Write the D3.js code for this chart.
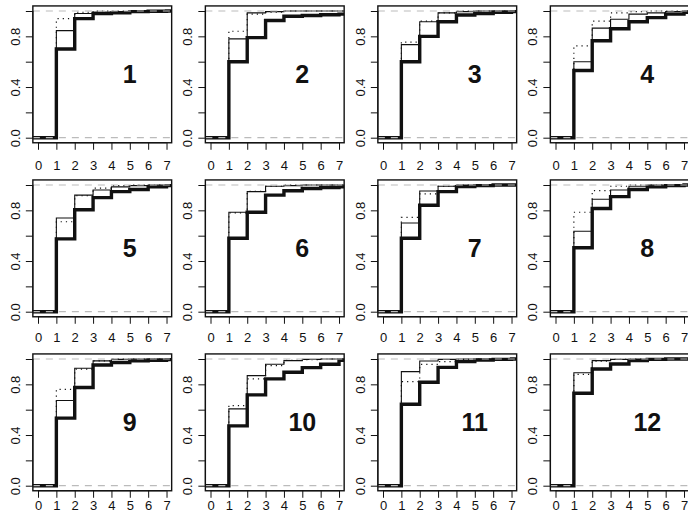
<!DOCTYPE html>
<html>
<head>
<meta charset="utf-8">
<script src="https://cdn.jsdelivr.net/npm/d3@7"></script>
<style>
  html, body { margin: 0; padding: 0; background: #fff; }
  svg { display: block; }
  text { font-family: "Liberation Sans", Arial, Helvetica, sans-serif; }
</style>
</head>
<body>
<svg id="chart" width="688" height="519"></svg>
<script>
// ---- data ----
const panels = ["1","2","3","4","5","6","7","8","9","10","11","12"];
const steps = [1, 2, 3, 4, 5, 6, 7];
const xTicks = [0, 1, 2, 3, 4, 5, 6, 7];
const yTicks = [0, 0.2, 0.4, 0.6, 0.8, 1.0];
const yTickLabels = ["0.0", "", "0.4", "", "0.8", ""];

// cumulative values at steps 1..7 for each panel
const seriesThick = [
  [0.70, 0.94, 0.98, 0.985, 0.995, 0.998, 1.0],
  [0.60, 0.79, 0.925, 0.958, 0.965, 0.97, 0.975],
  [0.60, 0.80, 0.915, 0.968, 0.98, 0.99, 0.995],
  [0.53, 0.765, 0.86, 0.915, 0.948, 0.975, 0.99],
  [0.575, 0.805, 0.90, 0.948, 0.965, 0.985, 0.995],
  [0.58, 0.785, 0.92, 0.955, 0.972, 0.98, 0.985],
  [0.58, 0.84, 0.948, 0.987, 0.995, 1.0, 1.0],
  [0.505, 0.815, 0.908, 0.965, 0.985, 0.995, 1.0],
  [0.533, 0.775, 0.953, 0.972, 0.985, 0.99, 0.995],
  [0.472, 0.717, 0.843, 0.895, 0.932, 0.958, 0.99],
  [0.643, 0.816, 0.934, 0.979, 0.992, 0.997, 1.0],
  [0.73, 0.921, 0.961, 0.987, 0.997, 1.0, 1.0]
];
const seriesThin = [
  [0.845, 0.98, 0.99, 0.995, 1, 1, 1],
  [0.78, 0.985, 0.995, 1, 1, 1, 1],
  [0.735, 0.915, 0.985, 0.995, 1, 1, 1],
  [0.60, 0.865, 0.935, 0.975, 0.985, 0.995, 1],
  [0.74, 0.92, 0.96, 0.985, 0.995, 1, 1],
  [0.785, 0.948, 0.99, 0.995, 1, 1, 1],
  [0.70, 0.953, 0.99, 1, 1, 1, 1],
  [0.635, 0.888, 0.96, 0.99, 1, 1, 1],
  [0.672, 0.927, 0.985, 0.997, 1, 1, 1],
  [0.606, 0.869, 0.958, 0.987, 0.997, 1, 1],
  [0.90, 0.984, 0.997, 1, 1, 1, 1],
  [0.892, 0.987, 0.997, 1, 1, 1, 1]
];
const seriesDotted = [
  [0.94, 0.99, 1, 1, 1, 1, 1],
  [0.84, 0.975, 0.99, 1, 1, 1, 1],
  [0.755, 0.92, 0.985, 1, 1, 1, 1],
  [0.725, 0.92, 0.985, 0.995, 1, 1, 1],
  [0.71, 0.915, 0.975, 0.995, 1, 1, 1],
  [0.78, 0.95, 0.99, 1, 1, 1, 1],
  [0.745, 0.93, 0.99, 1, 1, 1, 1],
  [0.785, 0.955, 0.99, 1, 1, 1, 1],
  [0.76, 0.92, 0.985, 1, 1, 1, 1],
  [0.632, 0.843, 0.948, 0.99, 0.995, 1, 1],
  [0.822, 0.958, 0.98, 0.997, 1, 1, 1],
  [0.879, 0.984, 0.997, 1, 1, 1, 1]
];

// ---- layout ----
const svg = d3.select("#chart");
const colStep = 172.5, rowStep = 174;
const x0Base = 38, xUnit = 18.36;
const y1Base = 11, yUnit = 126.7;
const xDom = [-0.28, 7.28], yDom = [-0.04, 1.04];
const rowPad = [11.5, 9.5, 3.5];
const FONT = "'Liberation Sans', Arial, Helvetica, sans-serif";

panels.forEach((label, i) => {
  const c = i % 4, r = Math.floor(i / 4);
  const xz = x0Base + c * colStep;
  const yOne = y1Base + r * rowStep;
  const yZero = yOne + yUnit;
  const x = d3.scaleLinear().domain([0, 7]).range([xz, xz + 7 * xUnit]);
  const y = d3.scaleLinear().domain([0, 1]).range([yZero, yOne]);
  const L = x(xDom[0]), R = x(xDom[1]), T = y(yDom[1]), B = y(yDom[0]);

  const g = svg.append("g");
  const clipId = "clip" + i;
  g.append("clipPath").attr("id", clipId)
    .append("rect").attr("x", L).attr("y", T).attr("width", R - L).attr("height", B - T);

  const plot = g.append("g").attr("clip-path", `url(#${clipId})`);
  const line = d3.line().x(d => x(d[0])).y(d => y(d[1])).curve(d3.curveStepAfter);
  const pts = vals => [[xDom[0] - 0.1, 0]].concat(steps.map((s, k) => [s, vals[k]])).concat([[xDom[1] + 0.1, vals[vals.length - 1]]]);

  plot.append("path").attr("d", line(pts(seriesThick[i])))
    .attr("fill", "none").attr("stroke", "#111").attr("stroke-width", 3.4);
  plot.append("path").attr("d", line(pts(seriesThin[i])))
    .attr("fill", "none").attr("stroke", "#111").attr("stroke-width", 1.1);
  plot.append("path").attr("d", line(pts(seriesDotted[i])))
    .attr("fill", "none").attr("stroke", "#111").attr("stroke-width", 1.2)
    .attr("stroke-dasharray", "1.2,4");

  [0, 1].forEach(h => {
    plot.append("line").attr("x1", L).attr("x2", R).attr("y1", y(h)).attr("y2", y(h))
      .attr("stroke", "#bbb").attr("stroke-width", 1.2).attr("stroke-dasharray", "7,6");
  });

  // box
  g.append("rect").attr("x", L).attr("y", T).attr("width", R - L).attr("height", B - T)
    .attr("fill", "none").attr("stroke", "#111").attr("stroke-width", 1.4);

  // x axis
  const xa = d3.axisBottom(x).tickValues(xTicks).tickFormat(d3.format("d")).tickSize(7).tickPadding(rowPad[r]);
  const gx = g.append("g").attr("transform", `translate(0,${B})`).call(xa);
  gx.select(".domain").attr("stroke", "#111").attr("d", `M${x(0)},0H${x(7)}`);
  gx.selectAll(".tick line").attr("stroke", "#111");
  gx.selectAll(".tick text").attr("font-size", 13).attr("fill", "#111")
    .attr("font-family", FONT);

  // y axis
  const ya = d3.axisLeft(y).tickValues(yTicks).tickFormat((d, k) => yTickLabels[k]).tickSize(7).tickPadding(4);
  const gy = g.append("g").attr("transform", `translate(${L},0)`).call(ya);
  gy.select(".domain").attr("stroke", "#111").attr("d", `M0,${y(0)}V${y(1)}`);
  gy.selectAll(".tick line").attr("stroke", "#111");
  gy.selectAll(".tick text").attr("font-size", 13).attr("fill", "#111")
    .attr("font-family", FONT)
    .attr("text-anchor", "middle").attr("dy", null).attr("x", null)
    .attr("transform", "translate(-17.5,0) rotate(-90)")
    .attr("dominant-baseline", "central");

  // panel number
  g.append("text").attr("x", x(5)).attr("y", y(0.5))
    .attr("text-anchor", "middle").attr("dominant-baseline", "central")
    .attr("font-size", 25).attr("font-weight", "bold").attr("fill", "#111")
    .attr("font-family", FONT)
    .text(label);
});
</script>
</body>
</html>
